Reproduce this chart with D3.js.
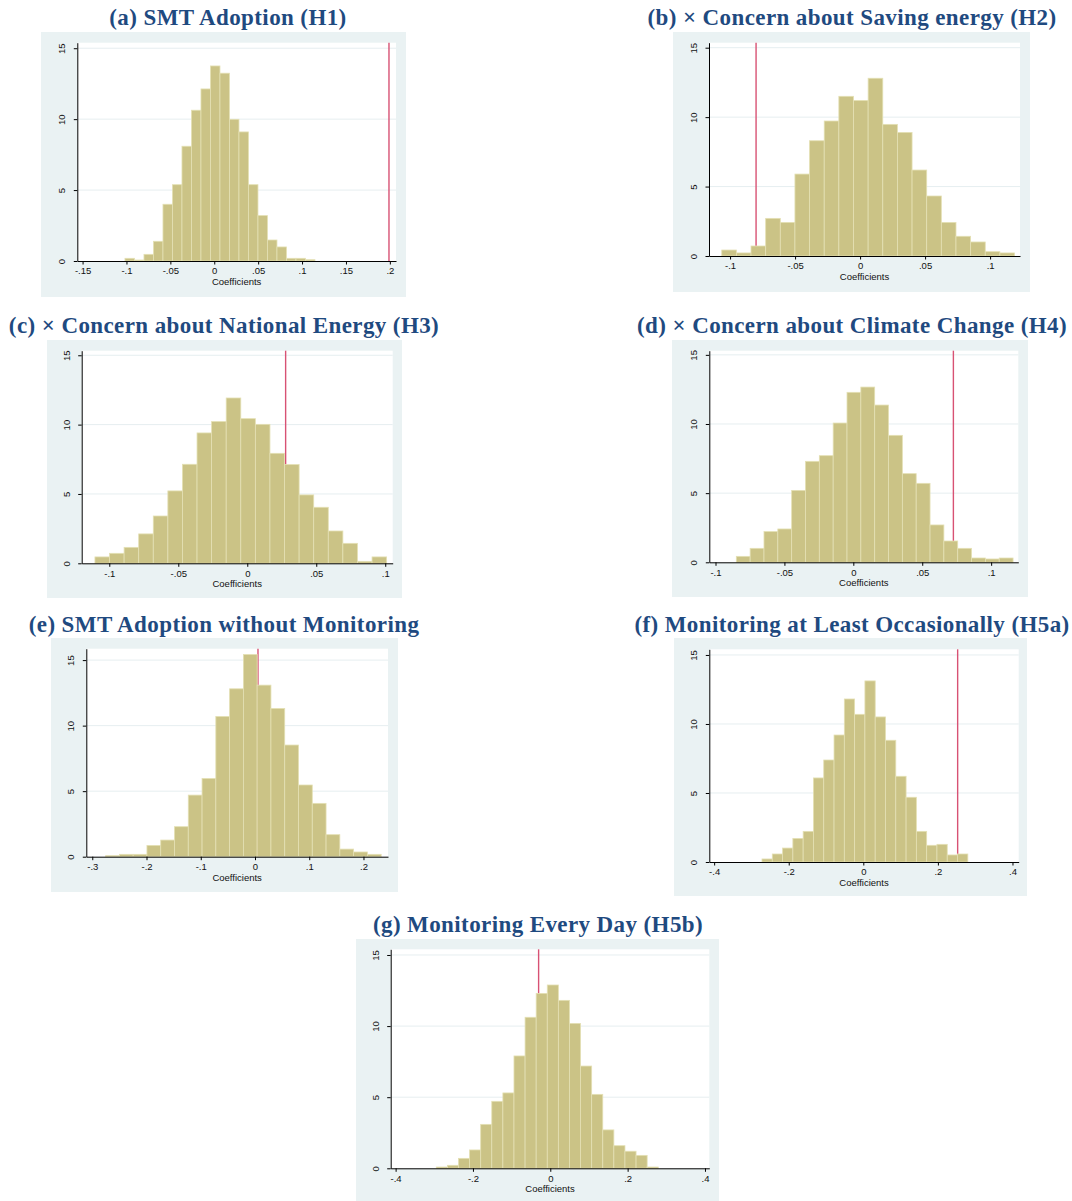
<!DOCTYPE html>
<html>
<head>
<meta charset="utf-8">
<script src="https://cdn.jsdelivr.net/npm/d3@7"></script>
<style>
  html, body { margin: 0; padding: 0; background: #ffffff; }
  svg { display: block; }
</style>
</head>
<body>
<svg id="fig" width="1072" height="1201"></svg>
<script>
// Permutation-test histograms: share of placebo coefficients (percent) per bin,
// with the observed coefficient marked by a vertical line.

const titles = [
  "(a) SMT Adoption (H1)",
  "(b) \u00d7 Concern about Saving energy (H2)",
  "(c) \u00d7 Concern about National Energy (H3)",
  "(d) \u00d7 Concern about Climate Change (H4)",
  "(e) SMT Adoption without Monitoring",
  "(f) Monitoring at Least Occasionally (H5a)",
  "(g) Monitoring Every Day (H5b)"
];

// first bin edge and bin width of each histogram
const binStarts = [-0.1017, -0.1064, -0.1104, -0.0849, -0.2754, -0.2717, -0.2948];
const binWidths = [0.01082, 0.01126, 0.01057, 0.01004, 0.0254, 0.0276, 0.0287];

// percent of draws in each bin
const percentA = [0.19, 0.07, 0.47, 1.39, 4.0, 5.38, 8.09, 10.63, 12.13, 13.75, 13.24, 9.99, 9.1, 5.38, 3.2, 1.48, 0.99, 0.19, 0.19, 0.09];
const percentB = [0.43, 0.22, 0.72, 2.71, 2.42, 5.9, 8.3, 9.72, 11.5, 11.2, 12.8, 9.48, 8.9, 6.19, 4.32, 2.42, 1.42, 1.01, 0.31, 0.22];
const percentC = [0.46, 0.72, 1.15, 2.12, 3.41, 5.22, 7.14, 9.4, 10.22, 11.92, 10.43, 10.02, 7.93, 7.12, 4.93, 4.04, 2.33, 1.44, 0.14, 0.46];
const percentD = [0.43, 1.01, 2.22, 2.41, 5.2, 7.3, 7.71, 10.07, 12.29, 12.67, 11.37, 9.18, 6.41, 5.71, 2.7, 1.54, 1.01, 0.31, 0.24, 0.31];
const percentE = [0.08, 0.18, 0.18, 0.86, 1.27, 2.29, 4.7, 5.97, 10.7, 12.81, 15.43, 13.09, 11.31, 8.52, 5.47, 4.07, 1.68, 0.58, 0.36, 0.18];
const percentF = [0.22, 0.58, 1.01, 1.71, 2.22, 6.09, 7.39, 9.2, 11.81, 10.7, 13.12, 10.51, 8.82, 6.21, 4.69, 2.22, 1.21, 1.28, 0.51, 0.58];
const percentG = [0.09, 0.21, 0.7, 1.29, 3.09, 4.71, 5.3, 7.9, 10.62, 12.3, 12.89, 11.81, 10.19, 7.19, 5.2, 2.7, 1.59, 1.2, 0.91, 0.09];
const percents = [percentA, percentB, percentC, percentD, percentE, percentF, percentG];

// observed (true) coefficients
const observed = [0.199, -0.080, 0.0278, 0.0726, 0.0055, 0.253, -0.0302];

// axis ranges and ticks
const xDomains = [
  [-0.156, 0.207], [-0.1162, 0.123], [-0.120, 0.1054], [-0.1045, 0.1197],
  [-0.311, 0.2452], [-0.413, 0.4167], [-0.4127, 0.4112]
];
const xTicks = [
  [-0.15, -0.1, -0.05, 0, 0.05, 0.1, 0.15, 0.2],
  [-0.1, -0.05, 0, 0.05, 0.1],
  [-0.1, -0.05, 0, 0.05, 0.1],
  [-0.1, -0.05, 0, 0.05, 0.1],
  [-0.3, -0.2, -0.1, 0, 0.1, 0.2],
  [-0.4, -0.2, 0, 0.2, 0.4],
  [-0.4, -0.2, 0, 0.2, 0.4]
];
const yMax = [15.39, 15.36, 15.33, 15.3, 15.87, 15.41, 15.4];
const yTicks = [0, 5, 10, 15];
const xAxisTitle = "Coefficients";

// panel frames: outer box, plot area, title anchor
const layout = [
  { box: [41, 32, 406, 297],  plot: [77.3, 42.7, 396, 261],    title: [228, 25] },
  { box: [673, 32, 1030, 292], plot: [709, 42.7, 1020, 256],   title: [852, 25] },
  { box: [47, 340, 402, 598], plot: [81.7, 350.7, 392.7, 563.3], title: [224, 333] },
  { box: [672, 340, 1028, 597], plot: [709.3, 350.7, 1018.3, 562.3], title: [852, 333] },
  { box: [51, 638, 398, 892], plot: [86.3, 648.7, 388, 856.7], title: [224, 632] },
  { box: [674, 638, 1027, 896], plot: [709.3, 649.3, 1018.7, 862], title: [852, 632] },
  { box: [356, 939, 719, 1201], plot: [390.7, 949.3, 709.3, 1168.3], title: [538, 932] }
];

const colors = {
  region: "#eaf2f3",
  grid: "#e6eef0",
  barFill: "#cbc386",
  barEdge: "#e4e0b4",
  line: "#d85274",
  axis: "#000000",
  title: "#1f4a80",
  text: "#111111"
};

const sans = "'Liberation Sans', Arial, sans-serif";
const tickFont = 9.5;

function stataLabel(d) {
  if (Math.abs(d) < 1e-9) return "0";
  const s = (+Math.abs(d).toFixed(3)).toString().replace(/^0\./, ".");
  return (d < 0 ? "-" : "") + s;
}

const svg = d3.select("#fig");

titles.forEach((title, i) => {
  const L = layout[i];
  const [bx0, by0, bx1, by1] = L.box;
  const [pl, pt, pr, pb] = L.plot;
  const g = svg.append("g").attr("class", "panel");

  // graph region
  g.append("rect")
    .attr("x", bx0).attr("y", by0)
    .attr("width", bx1 - bx0).attr("height", by1 - by0)
    .attr("fill", colors.region);

  // plot region
  g.append("rect")
    .attr("x", pl).attr("y", pt)
    .attr("width", pr - pl).attr("height", pb - pt)
    .attr("fill", "#ffffff");

  const x = d3.scaleLinear().domain(xDomains[i]).range([pl, pr]);
  const y = d3.scaleLinear().domain([0, yMax[i]]).range([pb, pt]);

  // horizontal gridlines
  g.append("g").selectAll("line")
    .data(yTicks.filter(t => t > 0))
    .join("line")
    .attr("x1", pl).attr("x2", pr)
    .attr("y1", d => y(d)).attr("y2", d => y(d))
    .attr("stroke", colors.grid).attr("stroke-width", 1);

  // observed coefficient (drawn beneath the bars)
  g.append("line")
    .attr("x1", x(observed[i])).attr("x2", x(observed[i]))
    .attr("y1", pt).attr("y2", pb)
    .attr("stroke", colors.line).attr("stroke-width", 1.4);

  // histogram bars
  const bins = percents[i].map((v, k) => ({
    x0: binStarts[i] + k * binWidths[i],
    x1: binStarts[i] + (k + 1) * binWidths[i],
    v
  }));
  g.append("g").selectAll("rect")
    .data(bins)
    .join("rect")
    .attr("x", d => x(d.x0))
    .attr("width", d => x(d.x1) - x(d.x0))
    .attr("y", d => y(d.v))
    .attr("height", d => y(0) - y(d.v))
    .attr("fill", colors.barFill)
    .attr("stroke", colors.barEdge)
    .attr("stroke-width", 0.8);

  // x axis
  const xAxis = d3.axisBottom(x)
    .tickValues(xTicks[i])
    .tickFormat(stataLabel)
    .tickSize(3.5)
    .tickPadding(3)
    .tickSizeOuter(0);
  const gx = g.append("g").attr("transform", `translate(0,${pb})`).call(xAxis);
  gx.select(".domain").attr("stroke", colors.axis).attr("stroke-width", 1);
  gx.selectAll(".tick line").attr("stroke", colors.axis).attr("stroke-width", 1);
  gx.selectAll(".tick text")
    .attr("font-family", sans)
    .attr("font-size", tickFont).attr("fill", colors.text);

  // y axis with labels turned to read upward
  const yAxis = d3.axisLeft(y)
    .tickValues(yTicks)
    .tickFormat(d3.format("d"))
    .tickSize(3.5)
    .tickSizeOuter(0);
  const gy = g.append("g").attr("transform", `translate(${pl},0)`).call(yAxis);
  gy.select(".domain").attr("stroke", colors.axis).attr("stroke-width", 1);
  gy.selectAll(".tick line").attr("stroke", colors.axis).attr("stroke-width", 1);
  gy.selectAll(".tick text")
    .attr("font-family", sans)
    .attr("font-size", tickFont).attr("fill", colors.text)
    .attr("text-anchor", "middle")
    .attr("dy", 0)
    .attr("x", 0).attr("y", -12)
    .attr("transform", "rotate(-90)");

  // axis title
  g.append("text")
    .attr("x", (pl + pr) / 2)
    .attr("y", pb + 24)
    .attr("text-anchor", "middle")
    .attr("font-family", sans)
    .attr("font-size", tickFont)
    .attr("fill", colors.text)
    .text(xAxisTitle);

  // panel title
  g.append("text")
    .attr("x", L.title[0])
    .attr("y", L.title[1])
    .attr("text-anchor", "middle")
    .attr("font-family", "'Liberation Serif', 'Times New Roman', serif")
    .attr("font-weight", "bold")
    .attr("font-size", 23)
    .attr("letter-spacing", 0.4)
    .attr("fill", colors.title)
    .text(title);
});
</script>
</body>
</html>
